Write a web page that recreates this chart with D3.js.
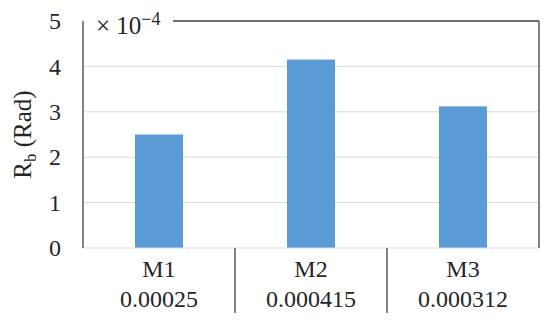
<!DOCTYPE html>
<html lang="en">
<head>
<meta charset="UTF-8" />
<title>Rb chart</title>
<script src="https://cdn.jsdelivr.net/npm/d3@7"></script>
<style>
  body { margin: 0; background: #fff; }
  text { font-family: "Liberation Serif", "DejaVu Serif", serif; fill: #262626; }
</style>
</head>
<body>
<script>
var categories = ["M1", "M2", "M3"];
var valueLabels = ["0.00025", "0.000415", "0.000312"];
var values = [2.5, 4.15, 3.12];   // in units of 1e-4
var yTicks = [0, 1, 2, 3, 4, 5];

var width = 550, height = 325;
var margin = { top: 21, right: 11, bottom: 77, left: 83 };
var plotW = width - margin.left - margin.right;
var plotH = height - margin.top - margin.bottom;

var svg = d3.select("body").append("svg")
  .attr("width", width)
  .attr("height", height);

var g = svg.append("g")
  .attr("transform", "translate(" + margin.left + "," + margin.top + ")");

var x = d3.scaleBand().domain(categories).range([0, plotW]).paddingInner(0).paddingOuter(0);
var y = d3.scaleLinear().domain([0, 5]).range([plotH, 0]);

// gridlines
g.selectAll(".grid")
  .data(yTicks.filter(function(d) { return d > 0 && d < 5; }))
  .enter().append("line")
  .attr("x1", 0).attr("x2", plotW)
  .attr("y1", function(d) { return y(d); })
  .attr("y2", function(d) { return y(d); })
  .attr("stroke", "#d9d9d9").attr("stroke-width", 1);

// bars
var barW = x.bandwidth() * 0.316;
g.selectAll(".bar")
  .data(values)
  .enter().append("rect")
  .attr("x", function(d, i) { return x(categories[i]) + (x.bandwidth() - barW) / 2; })
  .attr("y", function(d) { return y(d); })
  .attr("width", barW)
  .attr("height", function(d) { return y(0) - y(d); })
  .attr("fill", "#5b9bd5");

// bottom axis line
g.append("line")
  .attr("x1", 0).attr("x2", plotW)
  .attr("y1", y(0)).attr("y2", y(0))
  .attr("stroke", "#d9d9d9").attr("stroke-width", 1.2);

// frame: left axis, top (with gap for multiplier), right
var frameColor = "#404040";
g.append("line").attr("x1", 0).attr("x2", 0).attr("y1", 0).attr("y2", plotH)
  .attr("stroke", frameColor).attr("stroke-width", 1.3);
g.append("line").attr("x1", 90).attr("x2", plotW).attr("y1", 0).attr("y2", 0)
  .attr("stroke", frameColor).attr("stroke-width", 1.3);
g.append("line").attr("x1", plotW).attr("x2", plotW).attr("y1", 0).attr("y2", plotH)
  .attr("stroke", frameColor).attr("stroke-width", 1.3);

// category dividers below axis
var dividers = categories.slice(1);
g.selectAll(".div")
  .data(dividers)
  .enter().append("line")
  .attr("x1", function(d) { return x(d); })
  .attr("x2", function(d) { return x(d); })
  .attr("y1", plotH)
  .attr("y2", plotH + 65)
  .attr("stroke", frameColor).attr("stroke-width", 1.3);

// y tick labels
var yAxis = d3.axisLeft(y).tickValues(yTicks).tickSize(0).tickPadding(22).tickFormat(d3.format("d"));
var ya = g.append("g").call(yAxis);
ya.select(".domain").remove();
ya.selectAll("text")
  .style("font-family", "'Liberation Serif', serif")
  .style("font-size", "24px")
  .attr("fill", "#262626");

// category labels
g.selectAll(".cat")
  .data(categories)
  .enter().append("text")
  .attr("x", function(d) { return x(d) + x.bandwidth() / 2; })
  .attr("y", plotH + 29)
  .attr("text-anchor", "middle")
  .style("font-size", "24px")
  .text(function(d) { return d; });

g.selectAll(".val")
  .data(valueLabels)
  .enter().append("text")
  .attr("x", function(d, i) { return x(categories[i]) + x.bandwidth() / 2; })
  .attr("y", plotH + 59)
  .attr("text-anchor", "middle")
  .style("font-size", "24px")
  .text(function(d) { return d; });

// multiplier
var mult = g.append("text")
  .attr("x", 13)
  .attr("y", 13)
  .style("font-size", "25px");
mult.append("tspan").text("\u00d7 10");
mult.append("tspan").attr("dy", -9).style("font-size", "18px").text("\u22124");

// y label
var yl = svg.append("text")
  .attr("transform", "translate(31," + (margin.top + plotH / 2) + ") rotate(-90)")
  .attr("text-anchor", "middle")
  .style("font-size", "25px");
yl.append("tspan").text("R");
yl.append("tspan").attr("dy", 5).style("font-size", "17px").text("b");
yl.append("tspan").attr("dy", -5).text(" (Rad)");
</script>
</body>
</html>
